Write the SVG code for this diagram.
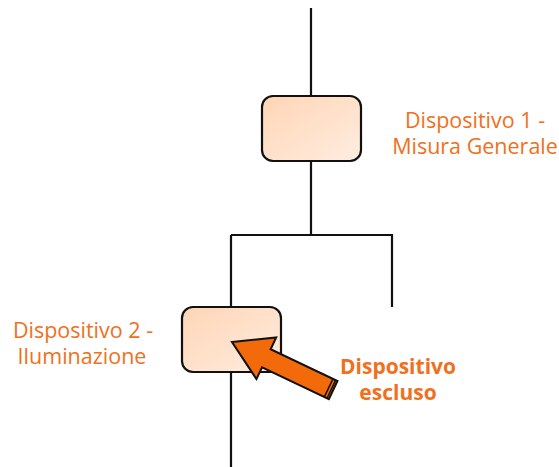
<svg xmlns="http://www.w3.org/2000/svg" width="559" height="467" viewBox="0 0 559 467">
<defs>
<linearGradient id="g" x1="0" y1="0" x2="1" y2="1">
<stop offset="0" stop-color="#FFD5B5"/>
<stop offset="1" stop-color="#FFEDE0"/>
</linearGradient>
<style>
.box{fill:url(#g);stroke:#111;stroke-width:2.2}
.ln{stroke:#111;stroke-width:2.2;fill:none}
.lbl{font-family:"Open Sans","Noto Sans",sans-serif;font-size:21.5px;fill:#F07020;text-anchor:middle}
.b{font-weight:bold;font-size:21px}
</style>
</defs>
<rect width="559" height="467" fill="#fff"/>
<g id="connectors">
<path class="ln" d="M311 8V96M311 161V235M231 235H392V307M231 235V307M231 372V467"/>
</g>
<g id="device1">
<rect class="box" x="262" y="96" width="99" height="65" rx="11"/>
<text class="lbl" x="475" y="128">Dispositivo 1 -</text>
<text class="lbl" x="475" y="154">Misura Generale</text>
</g>
<g id="device2">
<rect class="box" x="182" y="307" width="99" height="65" rx="11"/>
<text class="lbl" x="83" y="338">Dispositivo 2 -</text>
<text class="lbl" x="82" y="364">Iluminazione</text>
</g>
<g id="excluded">
<g transform="translate(232,342) rotate(25.4)">
<polygon points="0,0 38,-23 38,-10 112,-10 112,10 38,10 38,23" fill="#F26A0A" stroke="#111" stroke-width="2" stroke-linejoin="miter"/>
<path d="M107 -10V10M110 -10V10" stroke="#111" stroke-width="1.5"/>
</g>
<text class="lbl b" x="398" y="374">Dispositivo</text>
<text class="lbl b" x="398" y="400">escluso</text>
</g>
</svg>
